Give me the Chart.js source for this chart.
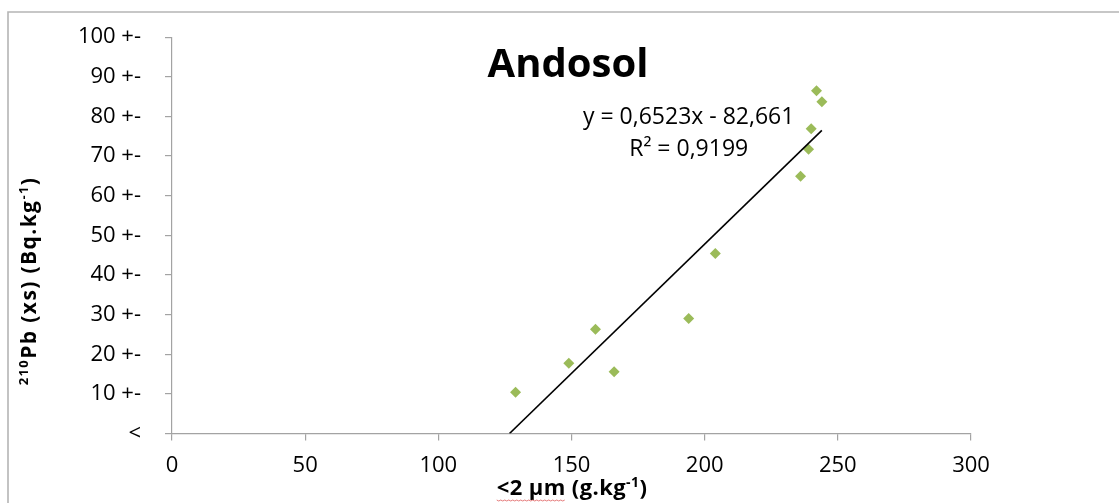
<!DOCTYPE html>
<html>
<head>
<meta charset="utf-8">
<title>Andosol</title>
<script src="https://cdn.jsdelivr.net/npm/chart.js@4.4.1/dist/chart.umd.min.js"></script>
<style>
  html, body { margin: 0; padding: 0; background: #ffffff; }
  #wrap { width: 1119px; height: 503px; }
</style>
</head>
<body>
<div id="wrap"><canvas id="chart" width="1119" height="503"></canvas></div>
<script>
// Clay fraction (<2 µm, g/kg) per sample
const clayValues = [129, 149, 159, 166, 194, 204, 236, 239, 240, 242, 244];
// Unsupported 210Pb activity (Bq/kg) per sample
const pbValues = [10.4, 17.7, 26.3, 15.6, 29.0, 45.4, 64.9, 71.7, 76.9, 86.5, 83.7];

// Linear trend line coefficients, as printed on the chart
const trendSlope = 0.6523;
const trendIntercept = -82.661;
const trendEquation = 'y = 0,6523x - 82,661';
const trendR2 = 'R² = 0,9199';

// Axis tick labels
const yTickLabels = ['<', '10 +-', '20 +-', '30 +-', '40 +-', '50 +-', '60 +-', '70 +-', '80 +-', '90 +-', '100 +-'];
const xTickValues = [0, 50, 100, 150, 200, 250, 300];

const chartTitle = 'Andosol';

const FONT = "'Open Sans', 'DejaVu Sans', sans-serif";
const AXIS_GREY = '#a3a3a3';

const scatterPoints = clayValues.map((x, i) => ({ x: x, y: pbValues[i] }));
const trendStartX = -trendIntercept / trendSlope;
const trendEndX = Math.max(...clayValues);
const trendPoints = [trendStartX, trendEndX].map(x => ({ x: x, y: trendSlope * x + trendIntercept }));

// Draw a run of text pieces, some of them as superscripts, centred on x
function drawRichText(ctx, pieces, cx, baseline, size, weight, spacing) {
  const supSize = Math.round(size * 0.62);
  ctx.letterSpacing = (spacing || 0) + 'px';
  let total = 0;
  const widths = pieces.map(p => {
    ctx.font = weight + ' ' + (p.sup ? supSize : size) + 'px ' + FONT;
    const w = ctx.measureText(p.text).width;
    total += w;
    return w;
  });
  let x = cx - total / 2;
  const starts = [];
  pieces.forEach((p, i) => {
    ctx.font = weight + ' ' + (p.sup ? supSize : size) + 'px ' + FONT;
    ctx.textAlign = 'left';
    ctx.textBaseline = 'alphabetic';
    ctx.fillText(p.text, x, p.sup ? baseline - size * 0.38 : baseline);
    starts.push(x);
    x += widths[i];
  });
  ctx.letterSpacing = '0px';
  return { starts: starts, widths: widths };
}

const decorations = {
  id: 'decorations',
  beforeDraw(chart) {
    const ctx = chart.ctx;
    ctx.save();
    ctx.fillStyle = '#ffffff';
    ctx.fillRect(0, 0, chart.width, chart.height);
    // outer frame of the figure
    ctx.strokeStyle = '#b5b5b5';
    ctx.lineWidth = 1.6;
    ctx.beginPath();
    ctx.moveTo(8, chart.height + 2);
    ctx.lineTo(8, 12);
    ctx.lineTo(chart.width + 2, 12);
    ctx.stroke();
    ctx.restore();
  },
  afterDraw(chart) {
    const ctx = chart.ctx;
    const xs = chart.scales.x;
    const ys = chart.scales.y;
    ctx.save();
    ctx.fillStyle = '#000000';

    // title
    ctx.font = 'bold 40px ' + FONT;
    ctx.textAlign = 'center';
    ctx.textBaseline = 'alphabetic';
    ctx.fillText(chartTitle, 568, 77);

    // trend line equation and R²
    ctx.font = '23px ' + FONT;
    const eqX = xs.getPixelForValue(194);
    ctx.fillText(trendEquation, eqX, ys.getPixelForValue(78.1));
    ctx.fillText(trendR2, eqX, ys.getPixelForValue(70.0));

    // x axis title
    const xt = drawRichText(ctx, [
      { text: '<2 µm (g.kg' }, { text: '-1', sup: true }, { text: ')' }
    ], 572, 495, 22, 'bold', 0.4);
    // spell-check style wavy underline under "<2 µm"
    ctx.font = 'bold 22px ' + FONT;
    const ulen = ctx.measureText('<2 µm').width + 2;
    ctx.strokeStyle = 'rgba(220, 80, 80, 0.75)';
    ctx.lineWidth = 1;
    ctx.beginPath();
    const ux0 = xt.starts[0];
    for (let i = 0; i <= ulen; i += 2) {
      const yy = 500 + ((i / 2) % 2 === 0 ? 0 : 1);
      if (i === 0) ctx.moveTo(ux0 + i, yy); else ctx.lineTo(ux0 + i, yy);
    }
    ctx.stroke();

    // y axis title, rotated
    ctx.save();
    ctx.translate(36, 281);
    ctx.rotate(-Math.PI / 2);
    ctx.fillStyle = '#000000';
    drawRichText(ctx, [
      { text: '210', sup: true }, { text: 'Pb (xs) (Bq.kg' }, { text: '-1', sup: true }, { text: ')' }
    ], 0, 0, 21, 'bold', 1.4);
    ctx.restore();

    ctx.restore();
  }
};

new Chart(document.getElementById('chart'), {
  type: 'scatter',
  data: {
    datasets: [
      {
        label: '210Pb',
        data: scatterPoints,
        pointStyle: 'rectRot',
        pointRadius: 5.5,
        pointHoverRadius: 5.5,
        backgroundColor: '#9bbb59',
        borderColor: '#9bbb59',
        borderWidth: 0,
        order: 2
      },
      {
        label: 'Linear trend',
        type: 'line',
        data: trendPoints,
        borderColor: '#000000',
        borderWidth: 1.6,
        pointRadius: 0,
        fill: false,
        order: 1
      }
    ]
  },
  options: {
    responsive: false,
    animation: false,
    devicePixelRatio: 1,
    layout: { padding: { left: 0, top: 37, right: 148, bottom: 0 } },
    plugins: {
      legend: { display: false },
      tooltip: { enabled: false },
      title: { display: false }
    },
    scales: {
      x: {
        type: 'linear',
        min: 0,
        max: 300,
        afterBuildTicks(scale) { scale.ticks = xTickValues.map(v => ({ value: v })); },
        afterFit(scale) { scale.height = 69.5; },
        ticks: {
          color: '#000000',
          font: { family: FONT, size: 22 },
          padding: 12,
          maxRotation: 0,
          callback: v => String(v)
        },
        grid: { drawOnChartArea: false, drawTicks: true, tickLength: 7, color: AXIS_GREY, lineWidth: 1.2 },
        border: { display: true, color: AXIS_GREY, width: 1.2 }
      },
      y: {
        type: 'linear',
        min: 0,
        max: 100,
        afterBuildTicks(scale) { scale.ticks = yTickLabels.map((_, i) => ({ value: i * 10 })); },
        afterFit(scale) { scale.width = 172; },
        ticks: {
          color: '#000000',
          font: { family: FONT, size: 22 },
          padding: 24,
          callback: v => yTickLabels[Math.round(v / 10)]
        },
        grid: { drawOnChartArea: false, drawTicks: true, tickLength: 7, color: AXIS_GREY, lineWidth: 1.2 },
        border: { display: true, color: AXIS_GREY, width: 1.2 }
      }
    }
  },
  plugins: [decorations]
});
</script>
</body>
</html>
